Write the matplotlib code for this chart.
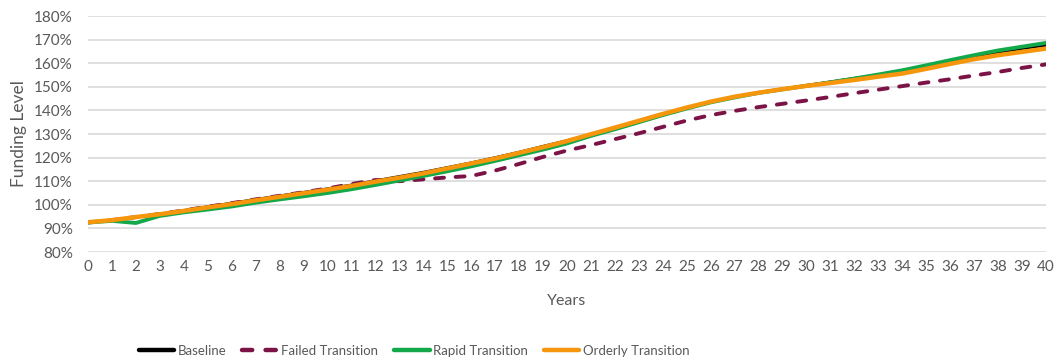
import matplotlib
matplotlib.use("Agg")
import matplotlib.pyplot as plt
from matplotlib.ticker import FuncFormatter

years = list(range(0, 41))

baseline = [92.5, 93.5, 94.8, 96.1, 97.6, 99.2, 100.7, 102.3, 103.8, 105.3,
            106.8, 108.4, 110.2, 112.0, 113.8, 115.8, 117.8, 120.0, 122.3, 124.8,
            127.2, 129.8, 132.5, 135.4, 138.3, 141.0, 143.5, 145.7, 147.5, 149.1,
            150.6, 152.1, 153.6, 155.1, 156.8, 158.8, 160.9, 162.9, 164.6, 166.2,
            167.6]
failed = [92.5, 93.5, 94.8, 96.1, 97.6, 99.2, 100.7, 102.3, 103.8, 105.3,
          106.9, 108.8, 110.5, 110.0, 110.8, 111.6, 112.2, 114.5, 117.3, 120.3,
          123.0, 125.3, 127.8, 130.3, 133.0, 135.7, 138.0, 139.8, 141.4, 142.8,
          144.2, 145.7, 147.3, 148.8, 150.3, 151.8, 153.2, 154.8, 156.3, 158.0,
          159.5]
rapid = [92.5, 93.2, 92.3, 95.3, 96.8, 98.0, 99.3, 100.9, 102.3, 103.6,
         105.0, 106.6, 108.4, 110.3, 112.2, 114.2, 116.3, 118.6, 121.0, 123.4,
         126.0, 129.2, 132.0, 135.0, 138.0, 140.8, 143.4, 145.5, 147.4, 148.9,
         150.4, 151.9, 153.5, 155.2, 157.0, 159.1, 161.3, 163.4, 165.4, 167.0,
         168.6]
orderly = [92.6, 93.5, 94.8, 96.0, 97.4, 98.9, 100.3, 101.9, 103.4, 104.9,
           106.4, 108.0, 109.8, 111.5, 113.3, 115.4, 117.5, 119.6, 122.0, 124.4,
           127.0, 129.9, 132.7, 135.6, 138.5, 141.2, 143.7, 145.8, 147.5, 149.0,
           150.4, 151.6, 152.9, 154.3, 155.6, 157.6, 159.7, 161.7, 163.4, 164.8,
           166.2]

series_names = ["Baseline", "Failed Transition", "Rapid Transition", "Orderly Transition"]
y_ticks = list(range(80, 181, 10))

plt.rcParams['font.family'] = ['Lato', 'DejaVu Sans']
GREY = "#595959"

fig = plt.figure(figsize=(10.57, 3.61), dpi=100)
ax = fig.add_axes([88 / 1057, 1 - 252 / 361, (1046 - 88) / 1057, (252 - 16) / 361])

ax.plot(years, baseline, color="#000000", lw=2.0, label=series_names[0],
        solid_capstyle="round", zorder=3)
ax.plot(years, failed, color="#7B1346", lw=2.8, label=series_names[1],
        dashes=(2.3, 3.0), dash_capstyle="round", zorder=4)
ax.plot(years, rapid, color="#13A84A", lw=2.8, label=series_names[2],
        solid_capstyle="round", zorder=5)
ax.plot(years, orderly, color="#F5960C", lw=3.2, label=series_names[3],
        solid_capstyle="round", zorder=6)

ax.set_xlim(0, 40)
ax.set_ylim(80, 180)
ax.set_xticks(years)
ax.set_yticks(y_ticks)
ax.yaxis.set_major_formatter(FuncFormatter(lambda v, p: f"{int(round(v))}%"))
ax.grid(axis="y", color="#D9D9D9", lw=1.2, zorder=0)
ax.set_axisbelow(True)
for s in ax.spines.values():
    s.set_visible(False)
ax.tick_params(axis="both", length=0, labelsize=11, labelcolor=GREY)
ax.tick_params(axis="y", pad=11)
ax.tick_params(axis="x", pad=6)

ax.set_ylabel("Funding Level", fontsize=12.5, color=GREY, labelpad=5)
ax.set_xlabel("Years", fontsize=11.5, color=GREY, labelpad=14)

leg = fig.legend(loc="center", bbox_to_anchor=(414 / 1057, 1 - 351 / 361), ncol=4,
                 frameon=False, handlelength=2.7, handletextpad=0.25,
                 columnspacing=1.2, labelcolor=GREY,
                 prop={"family": "Lato", "size": 9.5})
for line in leg.get_lines():
    line.set_linewidth(3.2)

fig.savefig("out.png", dpi=100)
